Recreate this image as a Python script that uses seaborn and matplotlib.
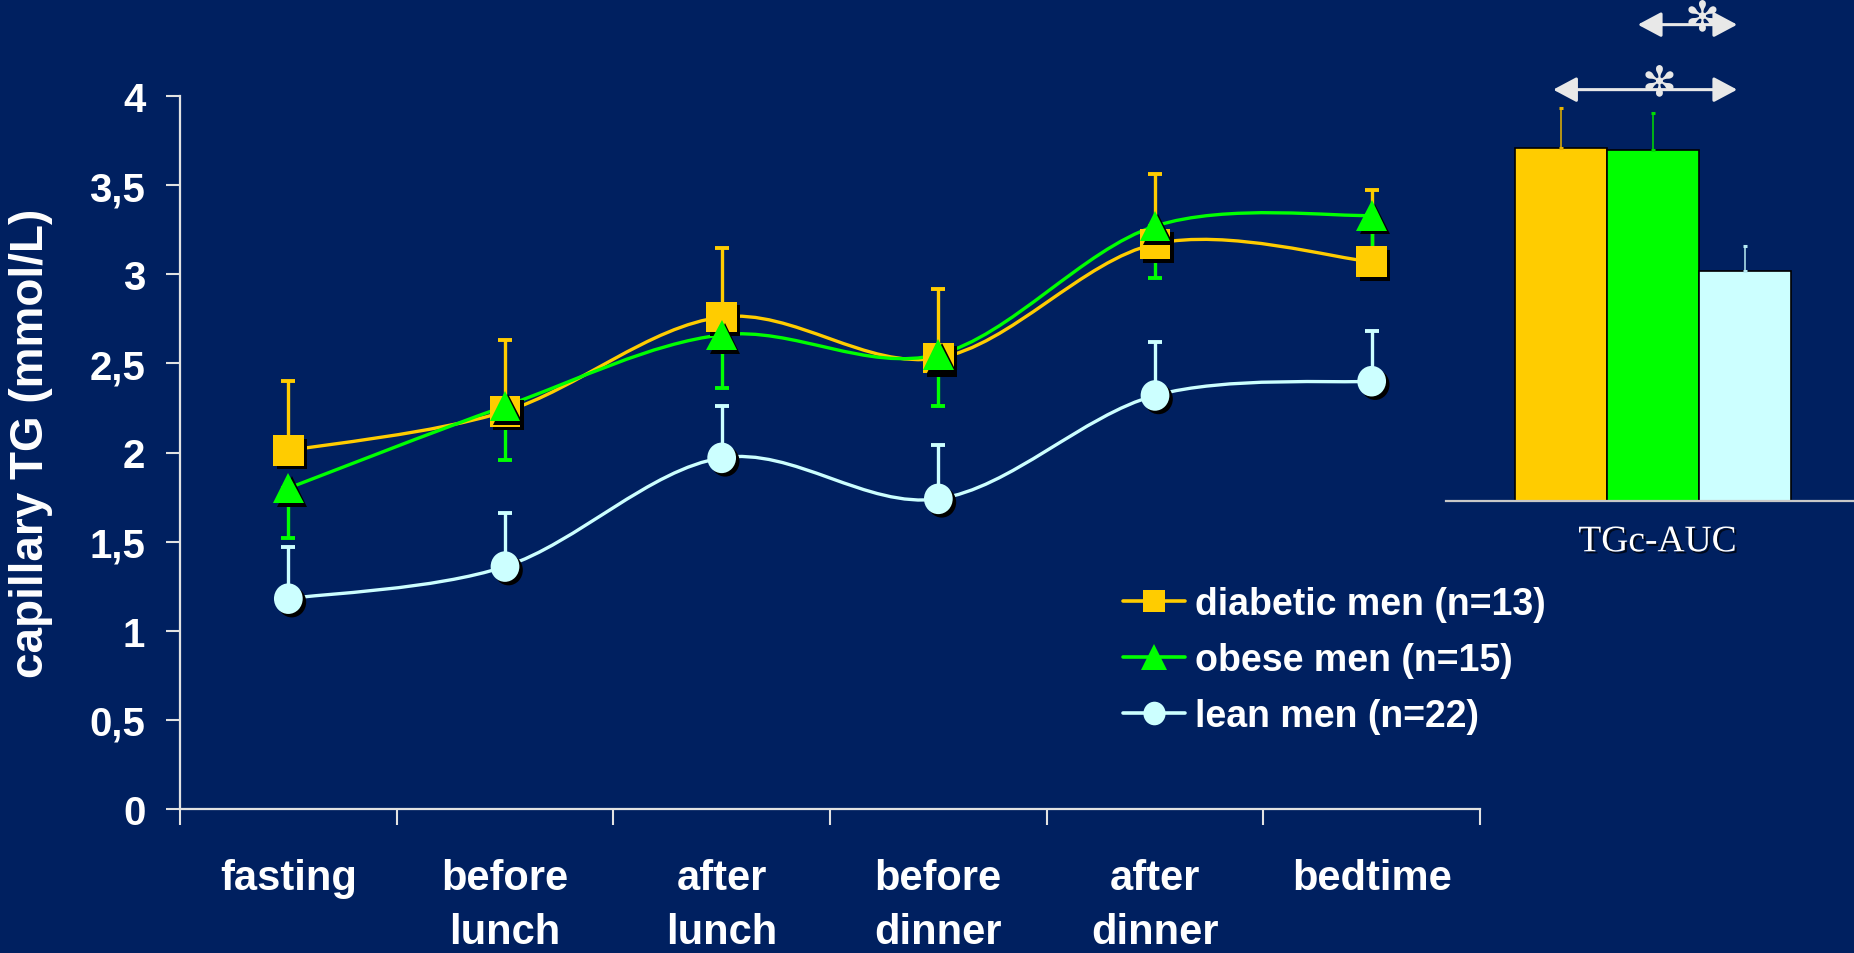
import numpy as np
import pandas as pd
import matplotlib
matplotlib.use("Agg")
import matplotlib.pyplot as plt
import matplotlib.patheffects as pe
from matplotlib.path import Path
from matplotlib.patches import PathPatch
from matplotlib.lines import Line2D
from matplotlib.transforms import Affine2D
import seaborn as sns

# ---- data -------------------------------------------------------------
times = ["fasting", "before\nlunch", "after\nlunch", "before\ndinner", "after\ndinner", "bedtime"]
groups = ["diabetic men (n=13)", "obese men (n=15)", "lean men (n=22)"]

diabetic_tg = [2.01, 2.23, 2.76, 2.53, 3.17, 3.07]
diabetic_sem = [0.39, 0.40, 0.39, 0.39, 0.39, 0.40]
obese_tg = [1.80, 2.26, 2.66, 2.55, 3.27, 3.33]
obese_sem = [0.28, 0.30, 0.30, 0.29, 0.29, 0.21]
lean_tg = [1.18, 1.36, 1.97, 1.74, 2.32, 2.40]
lean_sem = [0.29, 0.30, 0.29, 0.30, 0.30, 0.28]

y_ticks = [0, 0.5, 1, 1.5, 2, 2.5, 3, 3.5, 4]
y_tick_labels = ["0", "0,5", "1", "1,5", "2", "2,5", "3", "3,5", "4"]

auc_groups = ["diabetic", "obese", "lean"]
auc_values = [38.5, 38.3, 25.1]
auc_sem = [4.4, 4.0, 2.7]

# ---- style ------------------------------------------------------------
bg = "#002060"
axis_col = "#e2e2e2"
colors = ["#ffcc00", "#00ff00", "#ccffff"]
err_colors_auc = ["#e8b400", "#00dd00", "#b8ecf4"]
arrow_col = "#e8e8e8"

sns.set_style("dark", rc={"axes.facecolor": bg, "figure.facecolor": bg})
plt.rcParams["font.family"] = ["Liberation Sans", "DejaVu Sans"]

W, H = 1854, 954
fig = plt.figure(figsize=(W / 100, H / 100), dpi=100)
fig.patch.set_facecolor(bg)

# ---- main time-course panel -------------------------------------------
ax = fig.add_axes([180 / W, 1 - 810 / H, 1300 / W, 713 / H])
ax.set_facecolor(bg)
x_idx = np.arange(len(times))


def smooth_path(xs, ys):
    """Catmull-Rom style cubic Bezier path through the points."""
    pts = np.column_stack([xs, ys]).astype(float)
    ext = np.vstack([pts[0], pts, pts[-1]])
    verts = [pts[0]]
    codes = [Path.MOVETO]
    for i in range(len(pts) - 1):
        p0, p1, p2, p3 = ext[i], ext[i + 1], ext[i + 2], ext[i + 3]
        verts += [p1 + (p2 - p0) / 6.0, p2 - (p3 - p1) / 6.0, p2]
        codes += [Path.CURVE4] * 3
    return Path(verts, codes)


ellipse = Path.unit_circle().transformed(Affine2D().scale(0.94, 1.0))
shadow = [pe.SimplePatchShadow(offset=(2.5, -2.5), shadow_rgbFace="black", alpha=1.0), pe.Normal()]

series = [
    (diabetic_tg, diabetic_sem, "up", "s", colors[0]),
    (obese_tg, obese_sem, "down", "^", colors[1]),
    (lean_tg, lean_sem, "up", ellipse, colors[2]),
]

for vals, sem, side, mk, col in series:
    ax.add_patch(PathPatch(smooth_path(x_idx, vals), fill=False, edgecolor=col,
                           lw=2.4, zorder=2, capstyle="round"))
for vals, sem, side, mk, col in series:
    zeros = np.zeros(len(vals))
    yerr = [zeros, sem] if side == "up" else [sem, zeros]
    ax.errorbar(x_idx, vals, yerr=yerr, fmt="none", ecolor=col, elinewidth=2.4,
                capsize=5, capthick=2.8, zorder=3)
for z, (vals, sem, side, mk, col) in enumerate(series):
    df = pd.DataFrame({"t": x_idx, "tg": vals})
    sns.lineplot(data=df, x="t", y="tg", color=col, marker=mk, markersize=22,
                 markeredgewidth=0, linestyle="none", errorbar=None, ax=ax,
                 zorder=5 + z, path_effects=shadow)

ax.set_xlim(-0.5, 5.5)
ax.set_ylim(0, 4)
ax.set_yticks(y_ticks)
ax.set_yticklabels(y_tick_labels)
ax.set_xticks(x_idx)
ax.set_xticklabels(times)
ax.set_xticks(np.arange(-0.5, 6.0, 1.0), minor=True)
ax.set_xlabel("")
ax.set_ylabel("capillary TG (mmol/L)", fontsize=33, fontweight="bold", color="white")
ax.yaxis.set_label_coords(-0.0977, 0.514)

for s in ["top", "right"]:
    ax.spines[s].set_visible(False)
for s in ["left", "bottom"]:
    ax.spines[s].set_color(axis_col)
    ax.spines[s].set_linewidth(1.6)

ax.tick_params(axis="y", which="major", length=10, width=1.5, color=axis_col,
               direction="out", pad=15, labelsize=29, labelcolor="white", left=True)
ax.tick_params(axis="x", which="major", length=0, pad=35, labelsize=30, labelcolor="white",
               bottom=True)
ax.tick_params(axis="x", which="minor", length=11.5, width=1.5, color=axis_col,
               direction="out", bottom=True)
for lbl in ax.get_yticklabels():
    lbl.set_fontweight("bold")
for lbl in ax.get_xticklabels():
    lbl.set_fontweight("bold")
    lbl.set_linespacing(1.45)
ax.grid(False)

handles = [
    Line2D([], [], color=colors[0], lw=2.6, marker="s", markersize=16, markeredgewidth=0),
    Line2D([], [], color=colors[1], lw=2.6, marker="^", markersize=19, markeredgewidth=0),
    Line2D([], [], color=colors[2], lw=2.6, marker=ellipse, markersize=17, markeredgewidth=0),
]
leg = ax.legend(handles, groups, loc="center left",
                bbox_to_anchor=(1123 / W, 1 - 661 / H), bbox_transform=fig.transFigure,
                frameon=False, handlelength=1.65, handletextpad=0.27, labelspacing=0.53,
                borderpad=0, borderaxespad=0,
                prop={"family": "Liberation Sans", "weight": "bold", "size": 27})
for t in leg.get_texts():
    t.set_color("white")

# ---- AUC inset --------------------------------------------------------
ax2 = fig.add_axes([1446 / W, 1 - 501.7 / H, 408 / W, 501.7 / H])
ax2.patch.set_alpha(0)
auc_df = pd.DataFrame({"group": auc_groups, "auc": auc_values})
sns.barplot(data=auc_df, x="group", y="auc", hue="group", palette=colors, width=1.0,
            saturation=1, edgecolor="black", linewidth=1.2, legend=False, ax=ax2)
for i, (v, e) in enumerate(zip(auc_values, auc_sem)):
    ax2.errorbar(i, v, yerr=[[0], [e]], fmt="none", ecolor=err_colors_auc[i],
                 elinewidth=1.1, capsize=1.4, capthick=2.2, zorder=1)

x_left = -1.245
ax2.set_xlim(x_left, 3.19)
ax2.set_ylim(0, 54.8)
ax2.set_yticks([])
ax2.set_ylabel("")
ax2.set_xticks([x_left])
ax2.set_xticklabels([""])
ax2.tick_params(axis="x", length=6.5, width=1.2, color="#c8c8c8", direction="out")
for s in ["top", "right", "left"]:
    ax2.spines[s].set_visible(False)
ax2.spines["bottom"].set_color("#c8c8c8")
ax2.spines["bottom"].set_linewidth(1.6)
ax2.grid(False)
ax2.set_xlabel("TGc-AUC", family="Liberation Serif", fontsize=27, color="white",
               path_effects=[pe.withSimplePatchShadow(offset=(1.5, -1.5),
                                                      shadow_rgbFace="black", alpha=0.7)])
ax2.xaxis.set_label_coords(0.518, -0.048)

# significance brackets
for x0, x1, y, xs, ys in [(-0.08, 1.92, 44.9, 1.07, 45.7), (0.84, 1.92, 52.0, 1.54, 52.8)]:
    ax2.annotate("", xy=(x1, y), xytext=(x0, y), xycoords="data",
                 arrowprops=dict(arrowstyle="<|-|>,head_length=0.6,head_width=0.32",
                                 mutation_scale=24, color=arrow_col, lw=2.2,
                                 shrinkA=0, shrinkB=0), annotation_clip=False)
    ax2.text(xs, ys, "\u273b", family="DejaVu Sans", fontsize=30, color=arrow_col,
             ha="center", va="center", clip_on=False)

fig.savefig("out.png", dpi=100, facecolor=bg)
